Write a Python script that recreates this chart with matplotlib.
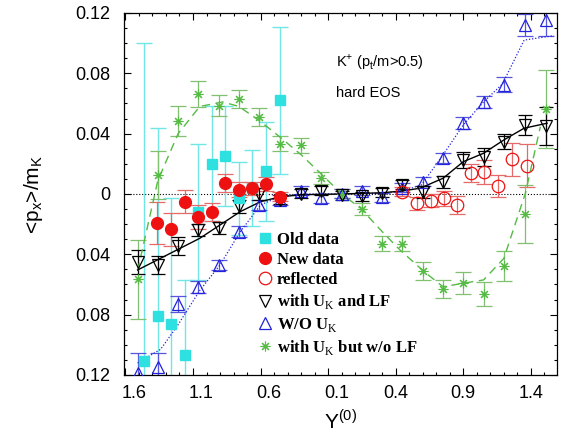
import matplotlib
matplotlib.use("Agg")
from matplotlib import pyplot as plt
from matplotlib.lines import Line2D
from matplotlib.ticker import MultipleLocator, FixedLocator
from matplotlib.transforms import ScaledTranslation

plt.rcParams['font.family'] = ['Liberation Sans', 'DejaVu Sans']
plt.rcParams['mathtext.fontset'] = 'custom'
plt.rcParams['mathtext.rm'] = 'Liberation Serif'
plt.rcParams['mathtext.sf'] = 'Liberation Sans'

# old data (cyan squares)
old_x = [-1.46, -1.36, -1.26, -1.16, -1.06, -0.96, -0.86, -0.76, -0.66, -0.56, -0.46]
old_y = [-0.111, -0.081, -0.086, -0.107, -0.012, 0.020, 0.025, -0.003, 0.004, 0.015, 0.062]
old_err = [0.211, 0.125, 0.083, 0.050, 0.045, 0.038, 0.033, 0.024, 0.025, 0.033, 0.049]

# new data (red filled circles)
new_x = [-1.37, -1.26, -1.16, -1.06, -0.96, -0.86, -0.76, -0.66, -0.56, -0.46]
new_y = [-0.0195, -0.0234, -0.0051, -0.0155, -0.0117, 0.0071, 0.0027, 0.0037, 0.0066, -0.0018]
new_err = [0.014, 0.011, 0.0075, 0.008, 0.006, 0.006, 0.005, 0.0045, 0.0045, 0.003]

# reflected (red open circles)
ref_x = [0.45, 0.56, 0.66, 0.76, 0.85, 0.96, 1.05, 1.16, 1.26, 1.37]
ref_y = [0.0015, -0.0062, -0.0044, -0.0029, -0.0073, 0.0137, 0.0148, 0.0053, 0.023, 0.0188]
ref_err = [0.003, 0.0045, 0.0045, 0.005, 0.006, 0.006, 0.008, 0.0075, 0.011, 0.014]

# model points
mod_x = [-1.51, -1.36, -1.21, -1.06, -0.91, -0.76, -0.61, -0.46, -0.30, -0.15, 0.0,
         0.15, 0.30, 0.45, 0.60, 0.75, 0.90, 1.05, 1.20, 1.36, 1.51]

lf_y = [-0.0449, -0.0468, -0.0347, -0.0238, -0.0227, -0.0083, 0.0002, -0.0038, 0.0, 0.0022, -0.001,
        -0.0015, 0.0007, 0.006, 0.0015, 0.0082, 0.0225, 0.0247, 0.0347, 0.0458, 0.0451]
lf_err = [0.008, 0.006, 0.006, 0.004, 0.004, 0.004, 0.004, 0.003, 0.003, 0.003, 0.003,
          0.003, 0.003, 0.003, 0.004, 0.004, 0.005, 0.006, 0.005, 0.0067, 0.0126]

nouk_y = [-0.1185, -0.1145, -0.0729, -0.0615, -0.0471, -0.025, -0.0073, -0.004, 0.0022, -0.0027, 0.0,
          0.0022, -0.0022, 0.004, 0.0082, 0.0237, 0.0469, 0.0612, 0.0723, 0.112, 0.1154]
nouk_err = [0.013, 0.009, 0.0053, 0.004, 0.0035, 0.0035, 0.003, 0.003, 0.003, 0.003, 0.003,
            0.003, 0.003, 0.003, 0.003, 0.0035, 0.004, 0.004, 0.005, 0.007, 0.011]

nolf_y = [-0.0566, 0.0128, 0.0482, 0.0663, 0.0586, 0.0632, 0.0511, 0.0332, 0.0323, 0.0106, 0.0,
          -0.0099, -0.0329, -0.0329, -0.0513, -0.063, -0.059, -0.0663, -0.048, -0.0133, 0.0564]
nolf_err = [0.026, 0.016, 0.010, 0.0085, 0.007, 0.006, 0.006, 0.005, 0.005, 0.004, 0.003,
            0.004, 0.005, 0.005, 0.006, 0.006, 0.007, 0.008, 0.010, 0.019, 0.026]

# model curves
lf_line_x = [-1.51, -1.05, -0.75, -0.60, -0.46, -0.30, 0.0, 0.30, 0.45, 0.58, 0.75, 0.90, 1.05, 1.20, 1.35, 1.52]
lf_line_y = [-0.0504, -0.0294, -0.0117, -0.0051, -0.002, -0.0005, 0.0, 0.0008, 0.002, 0.0038, 0.0104,
             0.0214, 0.027, 0.0358, 0.0436, 0.0469]

nouk_line_x = [-1.51, -1.34, -1.22, -1.05, -0.90, -0.75, -0.60, -0.46, -0.30, 0.0, 0.30, 0.45, 0.59, 0.75,
               0.90, 1.05, 1.19, 1.35, 1.57]
nouk_line_y = [-0.112, -0.103, -0.088, -0.064, -0.047, -0.025, -0.0073, -0.0018, 0.0, 0.0, 0.0005, 0.002,
               0.006, 0.0259, 0.0458, 0.061, 0.073, 0.102, 0.105]

nolf_line_x = [-1.51, -1.36, -1.21, -1.05, -0.88, -0.76, -0.60, -0.46, -0.30, -0.16, 0.0, 0.14, 0.30, 0.43,
               0.61, 0.75, 0.90, 1.05, 1.20, 1.36, 1.47]
nolf_line_y = [-0.051, 0.009, 0.040, 0.058, 0.061, 0.058, 0.048, 0.038, 0.026, 0.014, 0.0, -0.0095, -0.025,
               -0.037, -0.0515, -0.0615, -0.0592, -0.057, -0.0427, 0.0007, 0.0446]

xtick_pos = [-1.6, -1.1, -0.6, -0.1, 0.4, 0.9, 1.4]
xtick_lab = ['1.6', '1.1', '0.6', '0.1', '0.4', '0.9', '1.4']
ytick_pos = [-0.12, -0.08, -0.04, 0.0, 0.04, 0.08, 0.12]
ytick_lab = ['0.12', '0.08', '0.04', '0', '0.04', '0.08', '0.12']

cyan = '#2fe0e0'
cyan_e = '#70e6e6'
red = '#ee1111'
red_e = '#e66a6a'
blue = '#2222dd'
blue_e = '#5555dd'
green = '#55bb44'
green_e = '#80c070'

fig = plt.figure(figsize=(5.64, 4.32), dpi=100)
ax = fig.add_axes([0.22, 0.132, 0.768, 0.838])

ax.axhline(0, color='k', ls=':', lw=0.8, zorder=1)

ax.errorbar(old_x, old_y, yerr=old_err, fmt='none', ecolor=cyan_e, elinewidth=1.0, capsize=6, capthick=1.0, zorder=2)
ax.errorbar(new_x, new_y, yerr=new_err, fmt='none', ecolor=red_e, elinewidth=0.9, capsize=5.5, capthick=0.9, zorder=2)
ax.errorbar(ref_x, ref_y, yerr=ref_err, fmt='none', ecolor=red_e, elinewidth=0.9, capsize=5.5, capthick=0.9, zorder=2)
ax.errorbar(mod_x, nolf_y, yerr=nolf_err, fmt='none', ecolor=green_e, elinewidth=0.9, capsize=6, capthick=0.9, zorder=2)
ax.errorbar(mod_x, nouk_y, yerr=nouk_err, fmt='none', ecolor=blue_e, elinewidth=0.9, capsize=5.5, capthick=0.9, zorder=2)
ax.errorbar(mod_x, lf_y, yerr=lf_err, fmt='none', ecolor='k', elinewidth=0.9, capsize=5, capthick=0.9, zorder=2)

ax.plot(nolf_line_x, nolf_line_y, color=green, lw=1.0, dashes=(6, 4), zorder=3)
ax.plot(nouk_line_x, nouk_line_y, color=blue, lw=0.9, dashes=(1, 1.5), zorder=3)
ax.plot(lf_line_x, lf_line_y, color='k', lw=1.0, zorder=3)

ax.plot(mod_x, nolf_y, ls='none', marker=(8, 2, 0), ms=7, mec=green, mew=0.8, zorder=4)
ax.plot(mod_x, nouk_y, ls='none', marker='^', ms=9, mfc='none', mec=blue, mew=0.9, zorder=4)
ax.plot(mod_x, lf_y, ls='none', marker='v', ms=9, mfc='none', mec='k', mew=0.9, zorder=4)
ax.plot(old_x, old_y, ls='none', marker='s', ms=7, mfc=cyan, mec=cyan, zorder=5)
ax.plot(new_x, new_y, ls='none', marker='o', ms=8.5, mfc=red, mec=red, zorder=6)
ax.plot(ref_x, ref_y, ls='none', marker='o', ms=9, mfc='none', mec=red, mew=0.9, zorder=6)

ax.set_xlim(-1.61, 1.595)
ax.set_ylim(-0.12, 0.12)
ax.xaxis.set_major_locator(FixedLocator(xtick_pos))
ax.xaxis.set_minor_locator(MultipleLocator(0.1))
ax.yaxis.set_major_locator(FixedLocator(ytick_pos))
ax.yaxis.set_minor_locator(MultipleLocator(0.01))
ax.set_xticklabels(xtick_lab)
ax.set_yticklabels(ytick_lab)
ax.tick_params(which='both', direction='in', top=True, right=True, labelsize=13, width=0.8)
ax.tick_params(which='major', length=5)
ax.tick_params(which='minor', length=2.5)
ax.tick_params(axis='x', which='major', pad=7)
ax.tick_params(axis='y', which='major', pad=10)
for sp in ax.spines.values():
    sp.set_linewidth(0.9)

# negative-side labels sit a little right (lost minus sign)
for lab in ax.get_xticklabels()[:4]:
    lab.set_transform(lab.get_transform() + ScaledTranslation(6 / 72, 0, fig.dpi_scale_trans))

ax.set_xlabel(r'Y$^{\mathsf{(0)}}$', fontsize=15, labelpad=5)
ax.set_ylabel(r'<p$_{\mathsf{x}}$>/m$_{\mathsf{K}}$', fontsize=15, labelpad=22)

ax.text(0.49, 0.865, r'K$^{\mathsf{+}}$ (p$_{\mathsf{t}}$/m>0.5)', transform=ax.transAxes, fontsize=10.5, va='center')
ax.text(0.49, 0.78, 'hard EOS', transform=ax.transAxes, fontsize=10.5, va='center')

handles = [
    Line2D([], [], ls='none', marker='s', ms=7, mfc=cyan, mec=cyan),
    Line2D([], [], ls='none', marker='o', ms=8.5, mfc=red, mec=red),
    Line2D([], [], ls='none', marker='o', ms=9, mfc='none', mec=red, mew=0.9),
    Line2D([], [], ls='none', marker='v', ms=9, mfc='none', mec='k', mew=0.9),
    Line2D([], [], ls='none', marker='^', ms=9, mfc='none', mec=blue, mew=0.9),
    Line2D([], [], ls='none', marker=(8, 2, 0), ms=7, mec=green, mew=0.8),
]
labels = ['Old data', 'New data', 'reflected',
          r'with U$_{\mathrm{K}}$ and LF', r'W/O U$_{\mathrm{K}}$', r'with U$_{\mathrm{K}}$ but w/o LF']
ax.legend(handles, labels, loc='upper left', bbox_to_anchor=(0.31, 0.395), frameon=False,
          prop={'family': 'Liberation Serif', 'weight': 'bold', 'size': 12},
          handlelength=0.8, handletextpad=0.3, labelspacing=0.25, borderpad=0, borderaxespad=0)

fig.savefig('out.png', dpi=100)
